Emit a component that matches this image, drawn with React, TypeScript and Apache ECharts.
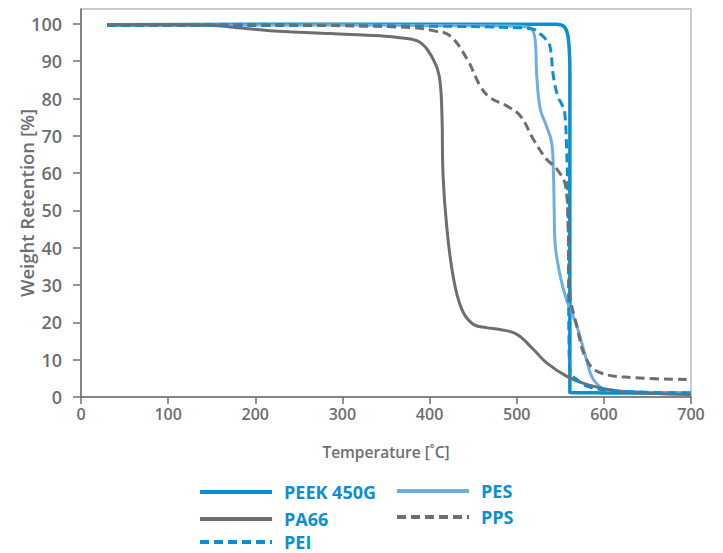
import React, { useEffect, useRef } from "react";
import * as echarts from "echarts";

const seriesNames = ["PEEK 450G", "PA66", "PEI", "PES", "PPS"];

const peekT = [30, 200, 400, 530, 545, 550, 553, 555.5, 557.5, 559, 560.2, 561, 561, 600, 700];
const peekW = [99.8, 99.9, 99.9, 99.9, 99.9, 99.8, 99.5, 99.0, 98.0, 96.5, 93.5, 88, 1.2, 1.1, 1.0];

const pa66T = [30, 100, 150, 171, 217, 286, 343, 366, 389, 404, 411, 414, 415.5, 419.6, 427, 437, 450, 465, 481, 500, 519, 534, 557, 580, 615, 650, 700];
const pa66W = [99.8, 99.8, 99.6, 99.2, 98.2, 97.4, 96.8, 96.3, 95.1, 90.6, 86.1, 77.2, 59.3, 45.9, 32.4, 23.5, 19.5, 18.6, 18.1, 16.8, 12.8, 9.2, 5.6, 3.4, 1.6, 1.0, 0.7];

const peiT = [30, 200, 400, 500, 520, 527, 533, 538, 542, 547, 552, 555, 557, 559, 559.5, 560, 561, 565, 569, 580, 615, 700];
const peiW = [99.6, 99.6, 99.4, 99.0, 98.5, 97.3, 96.0, 94.2, 86.1, 80.7, 78.3, 76.3, 68.3, 50.3, 32.4, 14.6, 7.4, 5.5, 4.7, 2.9, 1.5, 1.1];

const pesT = [30, 200, 400, 500, 515, 521, 523, 527, 534, 540, 542, 543, 544, 550, 557, 569, 580, 588, 603, 650, 700];
const pesW = [99.7, 99.7, 99.6, 99.4, 99.0, 96.0, 86.1, 77.2, 72.7, 68.3, 61.1, 50.3, 41.4, 32.4, 26.2, 19.0, 10.1, 4.7, 2.0, 1.3, 1.1];

const ppsT = [30, 200, 300, 380, 404, 423, 443, 458, 469, 488, 504, 519, 534, 546, 556, 559, 561, 569, 580, 596, 634, 695];
const ppsW = [99.8, 99.8, 99.5, 99.0, 98.2, 96.9, 90.6, 83.4, 80.3, 78.1, 75.4, 69.1, 63.8, 61.1, 56.6, 45.9, 28.0, 19.0, 10.1, 6.5, 5.2, 4.7];

const yTicks = [0, 10, 20, 30, 40, 50, 60, 70, 80, 90, 100];

const BLUE = "#0a8fd3";
const LIGHTBLUE = "#6eaee2";
const GRAY = "#6d6e71";
const FONT = "'Open Sans', sans-serif";

const zip = (t: number[], w: number[]) => t.map((v, i) => [v, w[i]]);

// legend slots: [series name, left, top]
const legendSlots: [string, number, number][] = [
  ["PEEK 450G", 198, 483],
  ["PA66", 198, 510],
  ["PEI", 198, 533],
  ["PES", 395, 482],
  ["PPS", 395, 508],
];

export default function App() {
  const ref = useRef<HTMLDivElement>(null);
  useEffect(() => {
    if (!ref.current) return;
    const chart = echarts.init(ref.current, undefined, { renderer: "svg" });
    const mk = (name: string, t: number[], w: number[], color: string, type: string, width: number, smooth: number | boolean) => ({
      name,
      type: "line",
      data: zip(t, w),
      symbol: "none",
      smooth,
      lineStyle: { color, width, type: type === "dashed" ? [9, 5] : "solid" },
      itemStyle: { color },
    });
    const legendBase = {
      orient: "vertical",
      itemWidth: 72,
      itemHeight: 16,
      padding: 0,
      itemStyle: { opacity: 0 },
      lineStyle: { width: 4 },
      textStyle: { color: BLUE, fontFamily: FONT, fontSize: 18, fontWeight: 700, lineHeight: 16, padding: [0, 0, 0, 7] },
    };
    chart.setOption({
      animation: false,
      backgroundColor: "#ffffff",
      grid: {
        left: 81,
        right: 32,
        top: 9,
        bottom: 156,
        show: true,
        borderColor: "#b8b9bb",
        borderWidth: 1.5,
        outerBoundsMode: "none",
        containLabel: false,
      },
      xAxis: {
        type: "value",
        min: 0,
        max: 700,
        interval: 100,
        name: "Temperature [˚C]",
        nameLocation: "middle",
        nameGap: 47,
        nameMoveOverlap: false,
        nameTextStyle: { color: GRAY, fontFamily: FONT, fontSize: 15.5, fontWeight: 600 },
        axisLine: { show: true, lineStyle: { color: GRAY, width: 1.5 } },
        axisTick: { show: true, length: 7, lineStyle: { color: GRAY, width: 1.5 } },
        axisLabel: { color: GRAY, fontFamily: FONT, fontSize: 16, fontWeight: 600, margin: 9 },
        splitLine: { show: false },
      },
      yAxis: {
        type: "value",
        min: 0,
        max: 104,
        name: "Weight Retention [%]",
        nameLocation: "middle",
        nameGap: 45,
        nameMoveOverlap: false,
        nameTextStyle: { color: GRAY, fontFamily: FONT, fontSize: 18.5, fontWeight: 600 },
        axisLine: { show: true, lineStyle: { color: GRAY, width: 1.5 } },
        axisTick: { show: true, length: 8, customValues: yTicks, lineStyle: { color: GRAY, width: 1.5 } },
        axisLabel: { color: GRAY, fontFamily: FONT, fontSize: 18, fontWeight: 600, margin: 19, customValues: yTicks },
        splitLine: { show: false },
      },
      legend: legendSlots.map(([name, left, top]) => ({ ...legendBase, data: [name], left, top })),
      series: [
        mk(seriesNames[0], peekT, peekW, BLUE, "solid", 3.5, 0.3),
        mk(seriesNames[3], pesT, pesW, LIGHTBLUE, "solid", 3, 0.4),
        mk(seriesNames[1], pa66T, pa66W, GRAY, "solid", 3, 0.4),
        mk(seriesNames[2], peiT, peiW, BLUE, "dashed", 3, 0.4),
        mk(seriesNames[4], ppsT, ppsW, GRAY, "dashed", 3, 0.4),
      ],
    });
    return () => chart.dispose();
  }, []);
  return <div ref={ref} style={{ width: 723, height: 553, marginLeft: -8, marginTop: -8 }} />;
}
